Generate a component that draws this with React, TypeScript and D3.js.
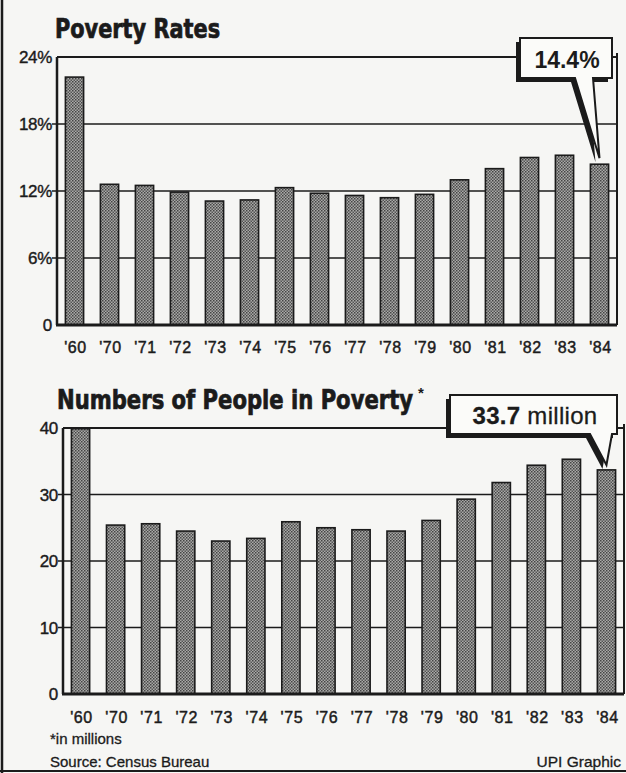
import React, { useLayoutEffect, useRef, useState } from "react";
import * as d3 from "d3";

const years = ["'60", "'70", "'71", "'72", "'73", "'74", "'75", "'76", "'77", "'78", "'79", "'80", "'81", "'82", "'83", "'84"];
const rates = [22.2, 12.6, 12.5, 11.9, 11.1, 11.2, 12.3, 11.8, 11.6, 11.4, 11.7, 13.0, 14.0, 15.0, 15.2, 14.4];
const people = [39.9, 25.4, 25.6, 24.5, 23.0, 23.4, 25.9, 25.0, 24.7, 24.5, 26.1, 29.3, 31.8, 34.4, 35.3, 33.7];
const rateTicks = [0, 6, 12, 18, 24];
const peopleTicks = [0, 10, 20, 30, 40];

const W = 626;
const H = 773;
const INK = "#1b1b1b";
const SANS = "'Liberation Sans', Arial, sans-serif";
const COND = "'DejaVu Sans Condensed', 'DejaVu Sans', sans-serif";

// bold title squeezed horizontally to a given width
function Title({ x, y, width, children }: { x: number; y: number; width: number; children: string }) {
  const ref = useRef<SVGTextElement | null>(null);
  const [sx, setSx] = useState(0.85);
  useLayoutEffect(() => {
    if (!ref.current) return;
    const natural = ref.current.getComputedTextLength();
    if (natural > 0) setSx(width / natural);
  }, [width, children]);
  return (
    <text
      ref={ref}
      transform={`translate(${x},${y}) scale(${sx},1)`}
      fontFamily={COND}
      fontWeight="bold"
      fontSize={26}
      fill={INK}
      stroke={INK}
      strokeWidth={0.7}
    >
      {children}
    </text>
  );
}

interface PanelProps {
  values: number[];
  ticks: number[];
  fmt: (v: number) => string;
  x0: number;
  x1: number;
  yTop: number;
  yBottom: number;
  labelY: number;
}

// one framed bar panel
function Panel({ values, ticks, fmt, x0, x1, yTop, yBottom, labelY }: PanelProps) {
  const x = d3.scaleBand<string>().domain(years).range([x0, x1]).paddingInner(0.48).paddingOuter(0.24);
  const y = d3.scaleLinear().domain([0, d3.max(ticks) as number]).range([yBottom, yTop]);

  return (
    <g>
      {/* gridlines */}
      {ticks.slice(1, -1).map((t) => (
        <line key={"g" + t} x1={x0 - 5} x2={x1} y1={y(t)} y2={y(t)} stroke={INK} strokeWidth={1.3} />
      ))}
      {/* bars */}
      {values.map((v, i) => (
        <rect
          key={"b" + i}
          x={x(years[i])}
          y={y(v)}
          width={x.bandwidth()}
          height={yBottom - y(v)}
          fill="url(#dots)"
          stroke={INK}
          strokeWidth={1.6}
        />
      ))}
      {/* frame */}
      <line x1={x0} x2={x1} y1={yTop} y2={yTop} stroke={INK} strokeWidth={2} />
      <line x1={x1} x2={x1} y1={yTop - 4} y2={yBottom} stroke={INK} strokeWidth={2} />
      <line x1={x0} x2={x0} y1={yTop} y2={yBottom} stroke={INK} strokeWidth={2.5} />
      <line x1={x0 - 1} x2={x1} y1={yBottom} y2={yBottom} stroke={INK} strokeWidth={3} />
      {/* y labels */}
      {ticks.map((t) => (
        <text
          key={"y" + t}
          x={x0 - 5}
          y={y(t)}
          dy="0.36em"
          textAnchor="end"
          fontFamily={SANS}
          fontSize={17}
          letterSpacing={-0.3}
          fill={INK}
          stroke={INK}
          strokeWidth={0.4}
        >
          {fmt(t)}
        </text>
      ))}
      {/* x labels */}
      {years.map((yr, i) => (
        <text
          key={"x" + i}
          x={(x(yr) as number) + x.bandwidth() / 2 + 1}
          y={labelY}
          textAnchor="middle"
          fontFamily={SANS}
          fontSize={16}
          letterSpacing={0.6}
          fill={INK}
          stroke={INK}
          strokeWidth={0.45}
        >
          {yr}
        </text>
      ))}
    </g>
  );
}

interface CalloutProps {
  bx0: number;
  bx1: number;
  by0: number;
  by1: number;
  px0: number;
  px1: number;
  tipX: number;
  tipY: number;
  children: React.ReactNode;
}

function Callout({ bx0, bx1, by0, by1, px0, px1, tipX, tipY, children }: CalloutProps) {
  const path = `M${bx0},${by0} L${bx1},${by0} L${bx1},${by1} L${px1},${by1} L${tipX},${tipY} L${px0},${by1} L${bx0},${by1} Z`;
  return (
    <g>
      <path d={path} transform="translate(-4,4)" fill={INK} />
      <path d={path} fill="#fbfbf9" stroke={INK} strokeWidth={2} strokeLinejoin="miter" />
      {children}
    </g>
  );
}

export default function App() {
  const xt = d3.scaleBand<string>().domain(years).range([57, 617]).paddingInner(0.48).paddingOuter(0.24);
  const yt = d3.scaleLinear().domain([0, 24]).range([325, 57]);
  const xb = d3.scaleBand<string>().domain(years).range([63, 624]).paddingInner(0.48).paddingOuter(0.24);
  const yb = d3.scaleLinear().domain([0, 40]).range([694, 428]);
  const last = years.length - 1;
  const tipTopX = (xt(years[last]) as number) + xt.bandwidth() / 2;
  const tipBotX = (xb(years[last]) as number) + xb.bandwidth() / 2;

  return (
    <svg
      width={W}
      height={H}
      viewBox={`0 0 ${W} ${H}`}
      style={{ position: "absolute", left: 0, top: 0, display: "block" }}
    >
      <defs>
        <pattern id="dots" width={3} height={3} patternUnits="userSpaceOnUse">
          <rect width={3} height={3} fill="#aaaaa8" />
          <rect x={0} y={0} width={1.5} height={1.5} fill="#444" />
          <rect x={1.5} y={1.5} width={1.5} height={1.5} fill="#555" />
        </pattern>
      </defs>
      <rect width={W} height={H} fill="#f6f6f4" />
      {/* outer border */}
      <line x1={2} x2={2} y1={0} y2={H} stroke={INK} strokeWidth={2.5} />
      <line x1={0} x2={W} y1={771} y2={771} stroke={INK} strokeWidth={2} />

      <Title x={55} y={38} width={165}>Poverty Rates</Title>
      <Panel values={rates} ticks={rateTicks} fmt={(v) => (v === 0 ? "0" : `${v}%`)}
        x0={57} x1={617} yTop={57} yBottom={325} labelY={353} />
      <Callout bx0={520} bx1={612} by0={38} by1={78} px0={575} px1={593} tipX={tipTopX} tipY={yt(rates[last]) - 6}>
        <text x={567} y={68} textAnchor="middle" fontFamily={SANS} fontWeight="bold" fontSize={23} fill={INK}>
          14.4%
        </text>
      </Callout>

      <Title x={57} y={409} width={356}>Numbers of People in Poverty</Title>
      <text x={418} y={398} fontFamily={SANS} fontWeight="bold" fontSize={15} fill={INK}>*</text>
      <Panel values={people} ticks={peopleTicks} fmt={(v) => `${v}`}
        x0={63} x1={624} yTop={428} yBottom={694} labelY={723} />
      <Callout bx0={450} bx1={617} by0={395} by1={434} px0={590} px1={612} tipX={tipBotX} tipY={yb(people[last]) - 5}>
        <text x={535} y={424} textAnchor="middle" fontFamily={SANS} fontSize={24} letterSpacing={0.3} fill={INK} stroke={INK} strokeWidth={0.3}>
          <tspan fontWeight="bold">33.7</tspan> million
        </text>
      </Callout>

      <text x={50} y={744} fontFamily={SANS} fontSize={15} fill={INK} stroke={INK} strokeWidth={0.3}>
        *in millions
      </text>
      <text x={50} y={767} fontFamily={SANS} fontSize={15} fill={INK} stroke={INK} strokeWidth={0.3}>
        Source: Census Bureau
      </text>
      <text x={621} y={767} textAnchor="end" fontFamily={SANS} fontSize={15.5} fill={INK} stroke={INK} strokeWidth={0.3}>
        UPI Graphic
      </text>
    </svg>
  );
}
